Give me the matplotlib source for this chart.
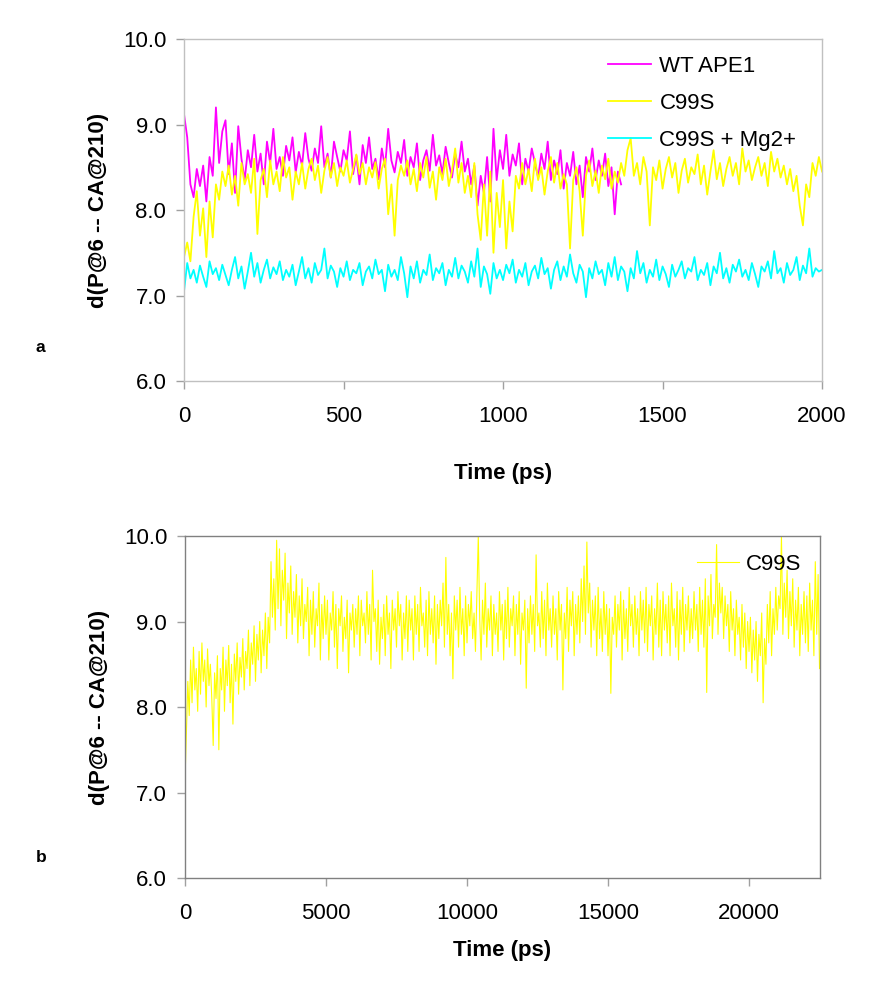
import numpy as np
import matplotlib
matplotlib.use("Agg")
import matplotlib.pyplot as plt

plt.rcParams['font.family'] = ['Liberation Sans', 'DejaVu Sans']

# --- panel a: 0-2000 ps, one sample every 10 ps ---
dt_a = 10
wt_ape1 = [
    9.12, 8.85, 8.30, 8.15, 8.48, 8.28, 8.52, 8.10, 8.62, 8.40,
    9.20, 8.55, 8.92, 9.05, 8.42, 8.78, 8.20, 8.98, 8.60, 8.35,
    8.70, 8.50, 8.88, 8.45, 8.66, 8.30, 8.80, 8.55, 8.95, 8.48,
    8.62, 8.40, 8.75, 8.58, 8.85, 8.44, 8.68, 8.52, 8.90, 8.60,
    8.46, 8.72, 8.55, 8.98, 8.50, 8.66, 8.38, 8.80, 8.62, 8.45,
    8.70, 8.58, 8.92, 8.42, 8.64, 8.30, 8.76, 8.55, 8.85, 8.48,
    8.60, 8.36, 8.72, 8.50, 8.95, 8.58, 8.44, 8.68, 8.55, 8.82,
    8.40, 8.62, 8.50, 8.78, 8.35, 8.58, 8.70, 8.46, 8.88, 8.52,
    8.64, 8.42, 8.74, 8.55, 8.38, 8.66, 8.50, 8.80, 8.45, 8.60,
    8.30, 8.52, 8.05, 8.40, 8.20, 8.62, 8.10, 8.95, 8.35, 8.70,
    8.48, 8.88, 8.40, 8.65, 8.52, 8.78, 8.30, 8.60, 8.45, 8.72,
    8.55, 8.38, 8.66, 8.48, 8.80, 8.35, 8.58, 8.42, 8.70, 8.25,
    8.55, 8.40, 8.68, 8.30, 8.52, 8.15, 8.62, 8.45, 8.72, 8.35,
    8.58, 8.40, 8.66, 8.28, 8.50, 7.95, 8.45, 8.30,
]
c99s_a = [
    7.45, 7.62, 7.40, 7.92, 8.22, 7.70, 8.02, 7.45, 8.10, 7.68,
    8.30, 8.12, 8.45, 8.28, 8.52, 8.18, 8.40, 8.05, 8.55, 8.30,
    8.42, 8.20, 8.60, 7.72, 8.35, 8.48, 8.15, 8.58, 8.30, 8.45,
    8.22, 8.62, 8.38, 8.50, 8.12, 8.45, 8.30, 8.55, 8.25, 8.48,
    8.60, 8.35, 8.52, 8.20, 8.46, 8.62, 8.38, 8.55, 8.28, 8.50,
    8.40, 8.58, 8.32, 8.48, 8.65, 8.42, 8.55, 8.30, 8.50, 8.38,
    8.56, 8.25, 8.48, 8.60, 7.95, 8.30, 7.70, 8.35, 8.52, 8.40,
    8.58, 8.30, 8.48, 8.22, 8.55, 8.38, 8.62, 8.26, 8.45, 8.12,
    8.50, 8.35, 8.60, 8.28, 8.46, 8.72, 8.32, 8.55, 8.20, 8.40,
    8.15, 8.55, 7.95, 7.65, 8.30, 7.70, 8.45, 7.50, 8.20, 7.80,
    8.35, 7.55, 8.10, 7.75, 8.40, 8.25, 8.55, 8.30, 8.48, 8.22,
    8.60, 8.35, 8.50, 8.18, 8.45, 8.62, 8.32, 8.55, 8.25, 8.42,
    8.30, 7.55, 8.35, 8.50, 8.22, 7.70, 8.40, 8.58, 8.28, 8.46,
    8.20, 8.52, 8.36, 8.60, 8.25, 8.45, 8.32, 8.55, 8.40, 8.70,
    8.84, 8.40, 8.55, 8.30, 8.62, 8.45, 7.82, 8.50, 8.35, 8.58,
    8.25, 8.48, 8.62, 8.38, 8.55, 8.20, 8.46, 8.60, 8.32, 8.50,
    8.42, 8.65, 8.30, 8.52, 8.18, 8.45, 8.70, 8.36, 8.55, 8.28,
    8.48, 8.62, 8.40, 8.55, 8.30, 8.72, 8.45, 8.58, 8.35, 8.50,
    8.62, 8.40, 8.55, 8.28, 8.68, 8.45, 8.60, 8.38, 8.52, 8.30,
    8.48, 8.22, 8.40, 8.05, 7.82, 8.30, 8.15, 8.55, 8.40, 8.62,
    8.45,
]
c99s_mg = [
    7.05, 7.38, 7.20, 7.30, 7.15, 7.35, 7.22, 7.10, 7.40, 7.25,
    7.32, 7.18, 7.36, 7.24, 7.12, 7.30, 7.45, 7.20, 7.34, 7.08,
    7.28, 7.50, 7.22, 7.38, 7.15, 7.30, 7.42, 7.20, 7.33, 7.25,
    7.40, 7.18, 7.30, 7.22, 7.36, 7.12, 7.28, 7.45, 7.20, 7.32,
    7.15, 7.38, 7.24, 7.30, 7.55, 7.20, 7.35, 7.28, 7.10, 7.32,
    7.22, 7.40, 7.18, 7.30, 7.26, 7.38, 7.12, 7.28, 7.34, 7.20,
    7.42, 7.25, 7.30, 7.05, 7.36, 7.22, 7.30, 7.18, 7.45, 7.26,
    6.98, 7.34, 7.20, 7.40, 7.15, 7.30, 7.24, 7.48, 7.18, 7.32,
    7.26, 7.38, 7.12, 7.30, 7.22, 7.44, 7.20, 7.35, 7.28, 7.15,
    7.40, 7.22, 7.55, 7.10, 7.34, 7.25, 7.02, 7.38, 7.20, 7.30,
    7.18, 7.36, 7.26, 7.42, 7.15, 7.30, 7.22, 7.38, 7.12, 7.28,
    7.35, 7.20, 7.44, 7.25, 7.32, 7.08, 7.30, 7.40, 7.18, 7.34,
    7.22, 7.48, 7.26, 7.15, 7.36, 7.28, 6.98, 7.32, 7.20, 7.40,
    7.25, 7.30, 7.12, 7.38, 7.22, 7.45, 7.18, 7.34, 7.28, 7.05,
    7.32, 7.20, 7.52, 7.26, 7.38, 7.15, 7.30, 7.22, 7.42, 7.18,
    7.34, 7.25, 7.10, 7.36, 7.22, 7.30, 7.40, 7.20, 7.32, 7.28,
    7.45, 7.18, 7.30, 7.24, 7.38, 7.12, 7.34, 7.26, 7.50, 7.20,
    7.32, 7.15, 7.36, 7.28, 7.42, 7.22, 7.30, 7.18, 7.38, 7.25,
    7.10, 7.34, 7.28, 7.40, 7.20, 7.52, 7.26, 7.32, 7.15, 7.38,
    7.24, 7.30, 7.45, 7.18, 7.35, 7.26, 7.55, 7.22, 7.32, 7.28,
    7.30,
]

# --- panel b: 0-22500 ps, one sample every 50 ps ---
dt_b = 50
c99s_b = [
    7.15, 7.70, 8.30, 7.90, 8.55, 8.05, 8.70, 8.20, 8.45, 7.95, 8.65, 8.15, 8.75, 8.30, 8.55, 8.00, 8.68, 8.25, 8.50, 8.10,
    7.55, 8.40, 8.10, 8.60, 7.50, 8.45, 8.20, 8.70, 7.95, 8.55, 8.25, 8.72, 8.05, 8.50, 7.80, 8.62, 8.30, 8.75, 8.15, 8.58,
    8.35, 8.80, 8.20, 8.65, 8.45, 8.90, 8.25, 8.75, 8.50, 8.95, 8.30, 8.85, 8.55, 9.00, 8.40, 8.90, 8.60, 9.10, 8.45, 9.05,
    8.75, 9.70, 9.05, 9.50, 8.90, 9.95, 9.15, 9.85, 8.95, 9.60, 9.25, 9.80, 8.80, 9.45, 9.10, 9.65, 8.85, 9.35, 9.05, 9.55,
    8.75, 9.30, 8.95, 9.50, 8.80, 9.20, 9.00, 9.40, 8.60, 9.25, 8.85, 9.35, 8.70, 9.15, 8.95, 9.45, 8.55, 9.20, 8.80, 9.30,
    8.85, 9.25, 8.55, 9.10, 8.90, 9.35, 8.70, 9.20, 8.45, 9.15, 8.95, 9.30, 8.65, 9.05, 8.80, 9.25, 8.40, 9.10, 8.90, 9.20,
    8.70, 9.15, 8.85, 9.30, 8.60, 9.25, 8.95, 9.10, 8.75, 9.35, 8.85, 9.20, 8.55, 9.60, 9.00, 9.15, 8.65, 9.25, 8.50, 9.05,
    8.80, 9.20, 8.60, 9.30, 8.85, 9.10, 8.45, 9.25, 8.90, 9.15, 8.70, 9.35, 8.95, 9.20, 8.55, 9.10, 8.80, 9.30, 8.65, 9.25,
    8.90, 9.15, 8.55, 9.30, 8.85, 9.20, 8.65, 9.40, 8.95, 9.10, 8.70, 9.25, 8.60, 9.35, 8.85, 9.15, 8.75, 9.30, 8.50, 9.20,
    8.80, 9.25, 8.95, 9.45, 8.70, 9.75, 8.85, 9.20, 8.60, 9.10, 8.33, 9.30, 8.90, 9.25, 8.70, 9.40, 8.85, 9.15, 8.60, 9.30,
    8.75, 9.20, 8.95, 9.35, 8.80, 9.10, 8.65, 9.30, 10.00, 9.05, 8.55, 9.25, 8.85, 9.45, 8.70, 9.15, 8.90, 9.30, 8.60, 9.20,
    8.85, 9.10, 8.65, 9.35, 8.90, 9.20, 8.55, 9.25, 8.80, 9.40, 8.70, 9.15, 8.95, 9.30, 8.60, 9.20, 8.85, 9.35, 8.50, 9.10,
    8.90, 9.25, 8.22, 9.15, 8.75, 9.30, 8.85, 9.20, 8.65, 9.78, 8.95, 9.10, 8.70, 9.35, 8.80, 9.25, 8.60, 9.45, 8.90, 9.15,
    8.70, 9.30, 8.85, 9.15, 8.55, 9.35, 8.90, 9.20, 8.20, 9.10, 8.80, 9.40, 8.65, 9.25, 8.95, 9.35, 8.60, 9.20, 8.85, 9.30,
    8.75, 9.50, 9.00, 9.65, 8.85, 9.93, 9.10, 9.45, 8.70, 9.25, 8.90, 9.30, 8.60, 9.40, 8.80, 9.15, 8.65, 9.35, 8.85, 9.20,
    8.60, 9.15, 8.16, 9.05, 8.85, 9.30, 8.70, 9.20, 8.90, 9.35, 8.55, 9.25, 8.80, 9.15, 8.65, 9.40, 8.95, 9.20, 8.70, 9.30,
    8.85, 9.15, 8.60, 9.35, 8.90, 9.25, 8.75, 9.40, 8.65, 9.20, 8.95, 9.30, 8.55, 9.15, 8.85, 9.45, 8.70, 9.25, 8.60, 9.35,
    8.90, 9.20, 8.75, 9.30, 8.60, 9.45, 8.95, 9.15, 8.70, 9.35, 8.55, 9.25, 8.85, 9.40, 8.65, 9.20, 8.90, 9.30, 8.75, 9.15,
    8.80, 9.35, 8.90, 9.20, 8.65, 9.40, 8.85, 9.25, 8.70, 9.50, 8.17, 9.30, 8.95, 9.55, 8.80, 9.20, 9.05, 9.90, 8.85, 9.45,
    9.10, 9.40, 8.80, 9.30, 8.95, 9.20, 8.65, 9.35, 8.90, 9.15, 8.60, 9.25, 8.85, 9.05, 8.55, 9.20, 8.70, 9.10, 8.45, 9.00,
    8.65, 9.05, 8.40, 8.90, 8.55, 9.00, 8.30, 8.85, 8.60, 9.10, 8.05, 8.80, 8.50, 9.20, 8.75, 9.35, 8.60, 9.15, 8.85, 9.40,
    8.90, 9.30, 9.15, 10.00, 8.85, 9.45, 9.05, 9.60, 8.80, 9.35, 8.95, 9.50, 8.70, 9.25, 8.90, 9.40, 8.60, 9.20, 8.85, 9.35,
    8.75, 9.30, 8.65, 9.45, 8.90, 9.25, 8.60, 9.70, 8.85, 9.55, 8.45,
]

yticks = [6.0, 7.0, 8.0, 9.0, 10.0]
xticks_a = [0, 500, 1000, 1500, 2000]
xticks_b = [0, 5000, 10000, 15000, 20000]
ylabel = "d(P@6 -- CA@210)"

FS = 16

fig = plt.figure(figsize=(8.78, 9.83), dpi=100)
ax1 = fig.add_axes([0.2096, 0.6124, 0.7267, 0.3479])
ax2 = fig.add_axes([0.2107, 0.1068, 0.7227, 0.3479])


def style(ax, xticks, xmax, spine_col, xlabelpad):
    ax.set_xlim(0, xmax)
    ax.set_ylim(6.0, 10.0)
    ax.set_yticks(yticks)
    ax.set_yticklabels([f"{v:.1f}" for v in yticks])
    ax.set_xticks(xticks)
    ax.set_xticklabels([str(v) for v in xticks])
    for s in ax.spines.values():
        s.set_color(spine_col)
        s.set_linewidth(1.0)
    ax.tick_params(direction="out", length=5.8, width=1.0, color="#a0a0a0",
                   labelsize=FS)
    ax.tick_params(axis="x", pad=12.5)
    ax.tick_params(axis="y", pad=7)
    ax.set_ylabel(ylabel, fontsize=FS, fontweight="bold", labelpad=10)
    ax.set_xlabel("Time (ps)", fontsize=FS, fontweight="bold",
                  labelpad=xlabelpad)


t_wt = np.arange(len(wt_ape1)) * dt_a
t_a = np.arange(len(c99s_a)) * dt_a
t_mg = np.arange(len(c99s_mg)) * dt_a
ax1.plot(t_wt, wt_ape1, color="#ff00ff", lw=1.3, label="WT APE1")
ax1.plot(t_a, c99s_a, color="#ffff00", lw=1.3, label="C99S")
ax1.plot(t_mg, c99s_mg, color="#00ffff", lw=1.3, label="C99S + Mg2+")
style(ax1, xticks_a, 2000, "#c0c0c0", 25.5)
ax1.legend(loc="upper left", bbox_to_anchor=(0.665, 0.950), frameon=False,
           fontsize=FS, handlelength=1.9, handletextpad=0.4,
           labelspacing=0.72, borderpad=0, borderaxespad=0)

t_b = np.arange(len(c99s_b)) * dt_b
ax2.plot(t_b, c99s_b, color="#ffff00", lw=0.8, label="C99S")
style(ax2, xticks_b, 22500, "#808080", 11.5)
ax2.legend(loc="upper left", bbox_to_anchor=(0.807, 0.947), frameon=False,
           fontsize=FS, handlelength=1.9, handletextpad=0.3, borderpad=0,
           borderaxespad=0)

fig.text(36 / 878, 1 - 347 / 983, "a", fontsize=12.5, fontweight="bold",
         ha="left", va="center")
fig.text(36 / 878, 1 - 858 / 983, "b", fontsize=12.5, fontweight="bold",
         ha="left", va="center")

fig.savefig("out.png", dpi=100)
